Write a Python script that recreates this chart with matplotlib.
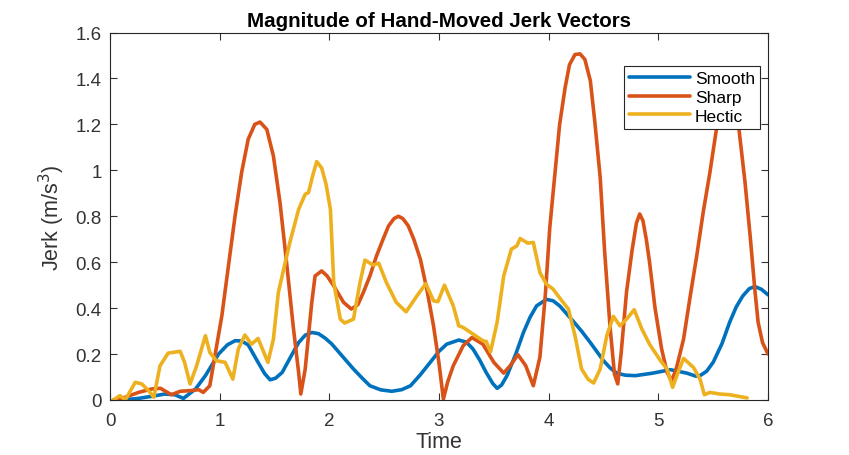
import matplotlib.pyplot as plt

plt.rcParams['font.family'] = ['Liberation Sans', 'DejaVu Sans']

# Smooth series (time, jerk)
smooth_t = [0.03, 0.15, 0.26, 0.38, 0.50, 0.59, 0.67, 0.78, 0.87, 0.99, 1.07, 1.14, 1.20, 1.26,
            1.35, 1.41, 1.46, 1.51, 1.57, 1.65, 1.72, 1.78, 1.84, 1.90, 1.96, 2.02, 2.12, 2.22,
            2.30, 2.37, 2.47, 2.57, 2.66, 2.74, 2.83, 2.92, 3.00, 3.07, 3.18, 3.25, 3.31, 3.37,
            3.43, 3.49, 3.53, 3.57, 3.62, 3.70, 3.77, 3.83, 3.89, 3.98, 4.04, 4.10, 4.22, 4.30,
            4.38, 4.50, 4.56, 4.62, 4.70, 4.79, 4.95, 5.11, 5.26, 5.34, 5.38, 5.44, 5.50, 5.58,
            5.65, 5.71, 5.77, 5.83, 5.88, 5.94, 6.0]
smooth_v = [0.0, 0.002, 0.007, 0.016, 0.026, 0.023, 0.007, 0.048, 0.106, 0.20, 0.24, 0.258, 0.257, 0.24,
            0.164, 0.115, 0.088, 0.095, 0.12, 0.19, 0.25, 0.282, 0.294, 0.289, 0.27, 0.245, 0.19, 0.135,
            0.095, 0.062, 0.044, 0.038, 0.045, 0.062, 0.11, 0.164, 0.212, 0.243, 0.261, 0.252, 0.222, 0.175,
            0.12, 0.072, 0.051, 0.065, 0.106, 0.20, 0.294, 0.36, 0.41, 0.438, 0.432, 0.41, 0.345, 0.30,
            0.25, 0.171, 0.14, 0.117, 0.108, 0.106, 0.117, 0.132, 0.117, 0.104, 0.106, 0.125, 0.164, 0.245,
            0.338, 0.405, 0.453, 0.485, 0.494, 0.482, 0.458]

# Sharp series
sharp_t = [0.03, 0.14, 0.26, 0.38, 0.46, 0.56, 0.64, 0.74, 0.81, 0.85, 0.91, 0.957, 1.02,
           1.08, 1.14, 1.20, 1.26, 1.32, 1.368, 1.43, 1.49, 1.55, 1.61, 1.67, 1.72, 1.74,
           1.78, 1.84, 1.87, 1.93, 1.98, 2.04, 2.13, 2.20, 2.26, 2.31, 2.37, 2.43, 2.49, 2.54,
           2.59, 2.63, 2.67, 2.72, 2.77, 2.83, 2.89, 2.95, 3.00, 3.04, 3.08, 3.13, 3.22,
           3.30, 3.40, 3.50, 3.59, 3.65, 3.72, 3.79, 3.86, 3.92, 3.97, 4.01, 4.06, 4.10, 4.15,
           4.19, 4.24, 4.286, 4.33, 4.38, 4.42, 4.47, 4.51, 4.56, 4.60, 4.63, 4.66, 4.71, 4.76,
           4.80, 4.83, 4.86, 4.89, 4.92, 4.97, 5.03, 5.08, 5.12, 5.16, 5.23, 5.29, 5.35, 5.41,
           5.47, 5.53, 5.58, 5.63, 5.68, 5.735, 5.79, 5.84, 5.88, 5.91, 5.95, 6.0]
sharp_v = [0.0, 0.012, 0.033, 0.048, 0.051, 0.023, 0.038, 0.041, 0.045, 0.033, 0.062, 0.193, 0.367,
           0.584, 0.80, 0.99, 1.135, 1.20, 1.21, 1.178, 1.062, 0.86, 0.599, 0.323, 0.12, 0.026,
           0.135, 0.425, 0.54, 0.562, 0.54, 0.497, 0.425, 0.396, 0.415, 0.468, 0.54, 0.627, 0.70, 0.758,
           0.79, 0.80, 0.79, 0.758, 0.70, 0.613, 0.48, 0.323, 0.16, 0.004, 0.08, 0.149, 0.236,
           0.272, 0.243, 0.164, 0.117, 0.15, 0.197, 0.15, 0.062, 0.186, 0.46, 0.75, 1.0, 1.2, 1.36,
           1.46, 1.504, 1.507, 1.483, 1.39, 1.215, 0.968, 0.649, 0.316, 0.113, 0.07, 0.2, 0.47, 0.65,
           0.77, 0.81, 0.78, 0.70, 0.60, 0.40, 0.222, 0.12, 0.084, 0.13, 0.265, 0.45, 0.627, 0.82,
           0.99, 1.18, 1.32, 1.36, 1.32, 1.18, 0.95, 0.70, 0.48, 0.338, 0.25, 0.2]

# Hectic series
hectic_t = [0.03, 0.09, 0.14, 0.23, 0.29, 0.35, 0.40, 0.456, 0.53, 0.64, 0.68, 0.73, 0.79,
            0.87, 0.91, 0.97, 1.05, 1.12, 1.17, 1.23, 1.29, 1.35, 1.44, 1.49, 1.535, 1.64,
            1.72, 1.78, 1.81, 1.85, 1.885, 1.93, 1.97, 2.01, 2.04, 2.10, 2.14, 2.22, 2.28, 2.325,
            2.40, 2.45, 2.52, 2.61, 2.70, 2.80, 2.88, 2.95, 2.99, 3.05, 3.13, 3.18, 3.22, 3.31,
            3.40, 3.43, 3.47, 3.53, 3.59, 3.66, 3.71, 3.74, 3.81, 3.86, 3.92, 3.98, 4.04,
            4.12, 4.18, 4.24, 4.30, 4.36, 4.41, 4.47, 4.53, 4.59, 4.65, 4.71, 4.78, 4.85, 4.92,
            5.02, 5.08, 5.13, 5.18, 5.23, 5.32, 5.38, 5.42, 5.47, 5.56, 5.65, 5.81]
hectic_v = [0.0, 0.019, 0.001, 0.077, 0.07, 0.041, 0.012, 0.149, 0.204, 0.212, 0.164, 0.07, 0.149,
            0.28, 0.207, 0.171, 0.164, 0.091, 0.222, 0.283, 0.243, 0.268, 0.164, 0.265, 0.468, 0.686,
            0.83, 0.896, 0.903, 0.98, 1.038, 1.01, 0.94, 0.83, 0.512, 0.352, 0.335, 0.352, 0.512, 0.609,
            0.587, 0.596, 0.512, 0.425, 0.384, 0.454, 0.507, 0.432, 0.428, 0.50, 0.41, 0.323, 0.316, 0.287,
            0.258, 0.255, 0.21, 0.338, 0.54, 0.657, 0.671, 0.703, 0.683, 0.686, 0.555, 0.504, 0.483,
            0.432, 0.396, 0.28, 0.135, 0.09, 0.074, 0.135, 0.28, 0.364, 0.323, 0.352, 0.393, 0.309, 0.243,
            0.171, 0.135, 0.055, 0.12, 0.181, 0.142, 0.091, 0.023, 0.033, 0.026, 0.023, 0.009]

series = [('Smooth', smooth_t, smooth_v, '#0072BD'),
          ('Sharp', sharp_t, sharp_v, '#D95319'),
          ('Hectic', hectic_t, hectic_v, '#EDB120')]

fig = plt.figure(figsize=(8.49, 4.56), dpi=100)
ax = fig.add_axes([110 / 849, 1 - 401 / 456, 658 / 849, 367.5 / 456])

for name, t, v, c in series:
    ax.plot(t, v, color=c, linewidth=2.6, label=name,
            solid_joinstyle='round', solid_capstyle='round')

ax.set_xlim(0, 6)
ax.set_ylim(0, 1.6)
ax.set_xticks([0, 1, 2, 3, 4, 5, 6])
ax.set_yticks([0, 0.2, 0.4, 0.6, 0.8, 1.0, 1.2, 1.4, 1.6])
ax.set_yticklabels(['0', '0.2', '0.4', '0.6', '0.8', '1', '1.2', '1.4', '1.6'])
ax.tick_params(direction='in', top=True, right=True, length=5, width=0.8,
               labelsize=13.5, colors='#333333', pad=6)
ax.tick_params(axis='x', pad=9)
for s in ax.spines.values():
    s.set_color('#262626')
    s.set_linewidth(0.8)

ax.set_title('Magnitude of Hand-Moved Jerk Vectors', fontsize=14.8, fontweight='bold', pad=5)
ax.set_xlabel('Time', fontsize=15.5, color='#333333', labelpad=1)
ax.set_ylabel('Jerk (m/s$^3$)', fontsize=15.5, color='#333333', labelpad=6)

leg = ax.legend(loc='upper right', bbox_to_anchor=(0.988, 0.909), fontsize=12.5,
                handlelength=3.5, frameon=True, fancybox=False, edgecolor='#262626',
                borderpad=0.3, labelspacing=0.2, handletextpad=0.3, borderaxespad=0)
leg.get_frame().set_linewidth(0.8)
leg.get_frame().set_alpha(1)

fig.savefig('out.png', dpi=100)
